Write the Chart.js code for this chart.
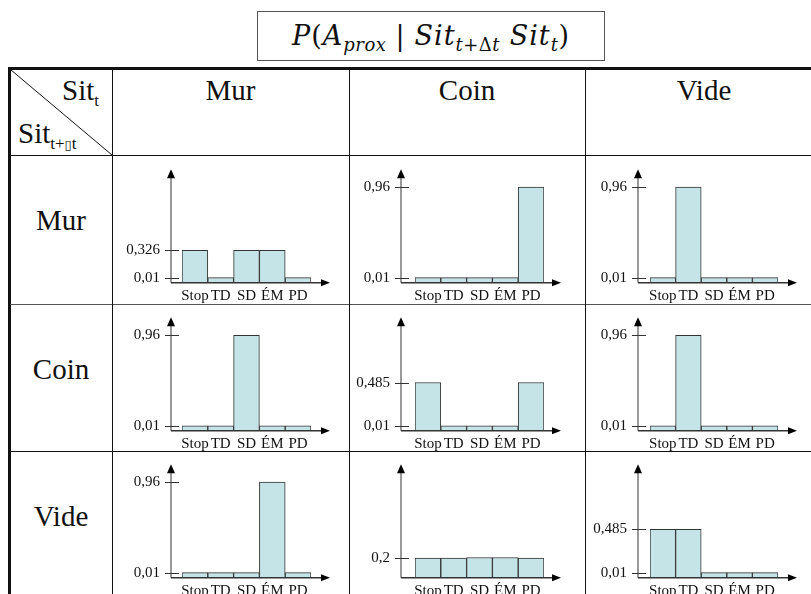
<!DOCTYPE html>
<html>
<head>
<meta charset="utf-8">
<script src="https://cdn.jsdelivr.net/npm/chart.js@4.4.1/dist/chart.umd.min.js"></script>
<style>
html, body { margin: 0; padding: 0; background: #fff; }
body { width: 811px; height: 594px; position: relative; overflow: hidden;
       font-family: "Liberation Serif", "Times New Roman", serif; color: #111; }
.ln { position: absolute; background: #111; }
.title { position: absolute; left: 257px; top: 11px; width: 346px; height: 48px;
         border: 1px solid #555; font-family: "DejaVu Serif", serif; font-size: 27px; line-height: 48px;
         letter-spacing: 1px; text-align: center; white-space: nowrap; }
.title i { font-style: italic; }
.title .sb { font-size: 18px; position: relative; top: 6px; letter-spacing: 0.5px; }
.title .rel { margin: 0 9px; }
.lab { position: absolute; font-size: 29px; line-height: 29px; white-space: nowrap; text-align: center; }
.sub { font-size: 17px; position: relative; top: 6px; }
canvas { position: absolute; }
</style>
</head>
<body>

<div class="title"><i>P</i>(<i>A</i><span class="sb"><i>prox</i></span><span class="rel">|</span><i>Sit</i><span class="sb"><i>t</i>+Δ<i>t</i></span> <i>Sit</i><span class="sb"><i>t</i></span>)</div>

<!-- table grid -->
<div class="ln" style="left:8px;top:67px;width:815px;height:3px"></div>
<div class="ln" style="left:8px;top:67px;width:3px;height:540px"></div>
<div class="ln" style="left:10px;top:155px;width:813px;height:1px"></div>
<div class="ln" style="left:10px;top:304px;width:813px;height:1px;background:#555"></div>
<div class="ln" style="left:10px;top:451px;width:813px;height:1px"></div>
<div class="ln" style="left:112px;top:69px;width:1px;height:540px"></div>
<div class="ln" style="left:349px;top:69px;width:1px;height:540px"></div>
<div class="ln" style="left:585px;top:69px;width:1px;height:540px"></div>
<svg style="position:absolute;left:0;top:0" width="120" height="160">
  <line x1="11" y1="70" x2="112" y2="155" stroke="#111" stroke-width="1"/>
</svg>

<!-- corner -->
<div class="lab" style="left:62px;top:76px;text-align:left">Sit<span class="sub">t</span></div>
<div class="lab" style="left:18px;top:119px;text-align:left">Sit<span class="sub">t+<span style="font-family:'DejaVu Sans';font-size:13px;color:#111">▯</span>t</span></div>

<div id="cells"></div>

<script>
// categories and situations
const categories = ['Stop', 'TD', 'SD', 'ÉM', 'PD'];
const situations = ['Mur', 'Coin', 'Vide'];

// P(A_prox | Sit t+Δt (row), Sit t (column))
const murMur   = [0.326, 0.01, 0.326, 0.326, 0.01];
const murCoin  = [0.01, 0.01, 0.01, 0.01, 0.96];
const murVide  = [0.01, 0.96, 0.01, 0.01, 0.01];
const coinMur  = [0.01, 0.01, 0.96, 0.01, 0.01];
const coinCoin = [0.485, 0.01, 0.01, 0.01, 0.485];
const coinVide = [0.01, 0.96, 0.01, 0.01, 0.01];
const videMur  = [0.01, 0.01, 0.01, 0.96, 0.01];
const videCoin = [0.198, 0.198, 0.203, 0.203, 0.198];
const videVide = [0.485, 0.485, 0.01, 0.01, 0.01];

// tick labels shown on each y axis
const ticksMurMur   = [0.01, 0.326];
const ticksMurCoin  = [0.01, 0.96];
const ticksMurVide  = [0.01, 0.96];
const ticksCoinMur  = [0.01, 0.96];
const ticksCoinCoin = [0.01, 0.485];
const ticksCoinVide = [0.01, 0.96];
const ticksVideMur  = [0.01, 0.96];
const ticksVideCoin = [0.2];
const ticksVideVide = [0.01, 0.485];

const grid = [
  [[murMur, ticksMurMur], [murCoin, ticksMurCoin], [murVide, ticksMurVide]],
  [[coinMur, ticksCoinMur], [coinCoin, ticksCoinCoin], [coinVide, ticksCoinVide]],
  [[videMur, ticksVideMur], [videCoin, ticksVideCoin], [videVide, ticksVideVide]]
];

// layout of the table cells
const cols = [
  { left: 112, right: 349, axisX: 171, barsL: 182, barsR: 311, tipX: 330 },
  { left: 349, right: 585, axisX: 401, barsL: 415, barsR: 544, tipX: 561 },
  { left: 585, right: 811, axisX: 638, barsL: 650, barsR: 778, tipX: 797 }
];
const rows = [
  { top: 155, base: 282.7 },
  { top: 304, base: 430.8 },
  { top: 451, base: 577.7 }
];
const axisHeight = 113.5;
const xScaleH = 24;
const minLen = 5;

const arrowAxes = {
  id: 'arrowAxes',
  afterDraw(chart, args, opts) {
    const { ctx, chartArea } = chart;
    const y = chart.scales.y;
    const base = y.getPixelForValue(0);
    const top = chartArea.top;
    const ax = chartArea.left - opts.gap;
    const tip = chartArea.right + opts.tail;
    ctx.save();
    ctx.lineWidth = 1.5;
    ctx.strokeStyle = '#777';
    ctx.beginPath(); ctx.moveTo(ax, base); ctx.lineTo(ax, top + 6); ctx.stroke();
    ctx.strokeStyle = '#333';
    ctx.beginPath(); ctx.moveTo(ax, base); ctx.lineTo(tip - 6, base); ctx.stroke();
    ctx.fillStyle = '#000';
    ctx.beginPath(); ctx.moveTo(ax, top); ctx.lineTo(ax - 4, top + 9); ctx.lineTo(ax + 4, top + 9); ctx.closePath(); ctx.fill();
    ctx.beginPath(); ctx.moveTo(tip, base); ctx.lineTo(tip - 9, base - 3.5); ctx.lineTo(tip - 9, base + 3.5); ctx.closePath(); ctx.fill();
    // y ticks (small values sit on top of the minimum bar length, as in the bars)
    ctx.font = '15px "Liberation Serif"';
    ctx.textAlign = 'right';
    ctx.textBaseline = 'middle';
    ctx.lineWidth = 1;
    ctx.strokeStyle = '#333';
    opts.ticks.forEach(v => {
      const py = Math.round(Math.min(y.getPixelForValue(v), base - opts.minLen)) + 0.5;
      ctx.beginPath(); ctx.moveTo(ax - 6, py); ctx.lineTo(ax + 8, py); ctx.stroke();
      ctx.fillStyle = '#111';
      ctx.fillText(String(v).replace('.', ','), ax - 11, py);
    });
    ctx.restore();
  }
};

const cells = document.getElementById('cells');

// header and row labels
situations.forEach((s, i) => {
  const h = document.createElement('div');
  h.className = 'lab';
  h.textContent = s;
  h.style.left = cols[i].left + 'px';
  h.style.width = (i === 2 ? 238 : cols[i].right - cols[i].left) + 'px';
  h.style.top = '76px';
  cells.appendChild(h);

  const r = document.createElement('div');
  r.className = 'lab';
  r.textContent = s;
  r.style.left = '10px';
  r.style.width = '102px';
  r.style.top = (rows[i].top + 51) + 'px';
  cells.appendChild(r);
});

rows.forEach((row, ri) => {
  cols.forEach((col, ci) => {
    const [values, tickValues] = grid[ri][ci];
    const cl = col.left + 1, ct = row.top + 1;
    const cw = col.right - col.left - 2;
    const chh = Math.ceil(row.base + xScaleH + 2 - ct);
    const cv = document.createElement('canvas');
    cv.width = cw; cv.height = chh;
    cv.style.left = cl + 'px'; cv.style.top = ct + 'px';
    cv.style.width = cw + 'px'; cv.style.height = chh + 'px';
    cells.appendChild(cv);

    new Chart(cv, {
      type: 'bar',
      data: {
        labels: categories,
        datasets: [{
          data: values,
          backgroundColor: '#c5e4e7',
          borderColor: '#333',
          borderWidth: 1,
          borderSkipped: false,
          minBarLength: minLen,
          barPercentage: 1,
          categoryPercentage: 1
        }]
      },
      options: {
        responsive: false,
        animation: false,
        layout: {
          padding: {
            left: col.barsL - cl,
            right: cl + cw - col.barsR,
            top: row.base - axisHeight - ct,
            bottom: ct + chh - row.base - xScaleH
          }
        },
        plugins: {
          legend: { display: false },
          tooltip: { enabled: false },
          arrowAxes: { gap: col.barsL - col.axisX, tail: col.tipX - col.barsR, ticks: tickValues, minLen: minLen }
        },
        scales: {
          x: {
            grid: { display: false, drawTicks: false },
            border: { display: false },
            ticks: {
              padding: 4,
              color: '#111',
              autoSkip: false,
              maxRotation: 0,
              minRotation: 0,
              font: { family: 'Liberation Serif', size: 15 }
            },
            afterFit: s => { s.height = xScaleH; }
          },
          y: { display: false, min: 0, max: 1.14 }
        }
      },
      plugins: [arrowAxes]
    });
  });
});
</script>
</body>
</html>
